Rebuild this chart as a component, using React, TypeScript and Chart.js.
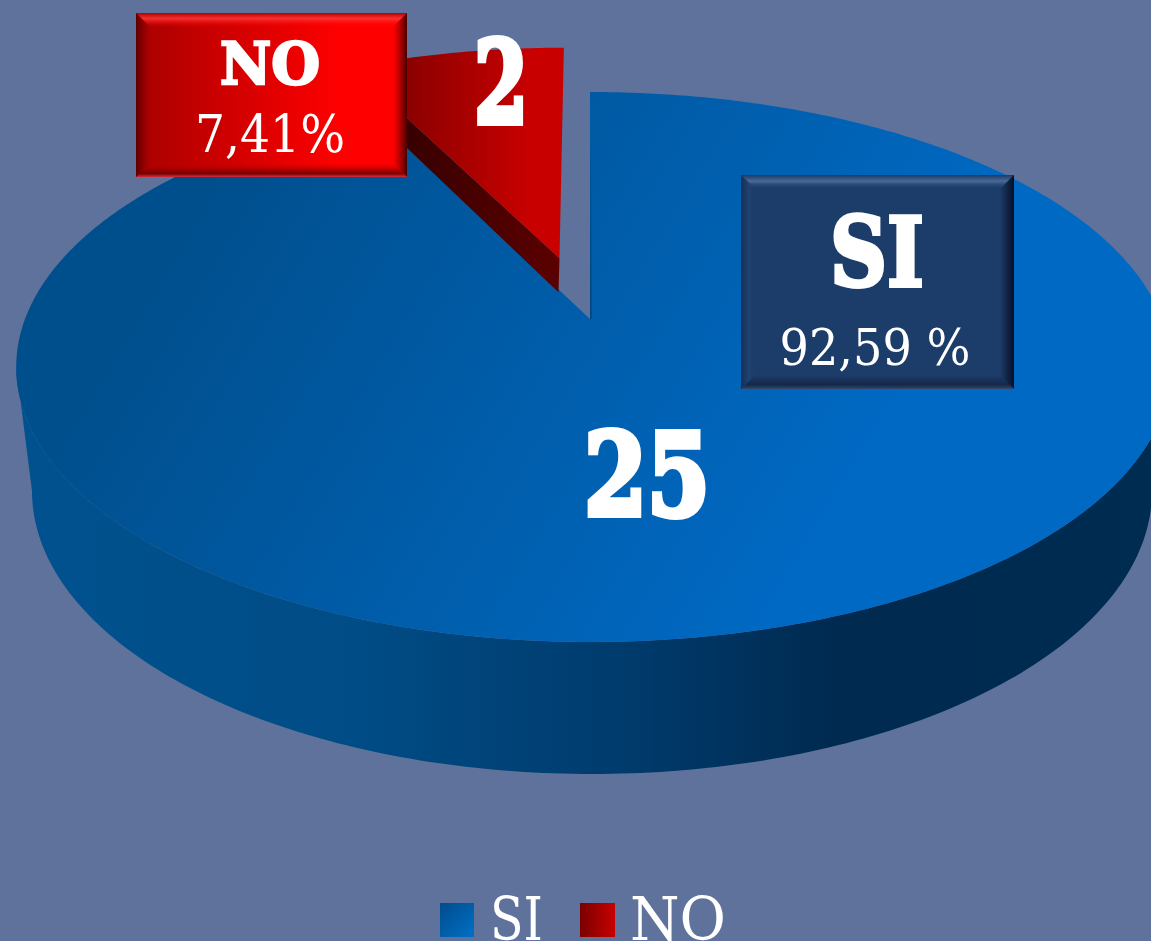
import React, { useEffect, useRef } from "react";
import { Chart, registerables } from "chart.js";

Chart.register(...registerables);

const categories = ["SI", "NO"];
const counts = [25, 2];
const percentLabels = ["92,59 %", "7,41%"];
const explode = [0, 140];

const BG = "#5f729b";
const RADIUS = 574;
const SERIF = '"DejaVu Serif", serif';

// Projection of the pie's unit disc on to the tilted plane
const APEX_X = 590;
const APEX_Y = 319;
const PERSP = -0.1745;
const STRETCH_Y = 266.6;
const STRETCH_LEFT = 565;
const STRETCH_RIGHT = 572;

function project(u: number, v: number): [number, number] {
  const d = 1 + PERSP * v;
  const s = u > 0 ? STRETCH_RIGHT : STRETCH_LEFT;
  return [APEX_X + (s * u) / d, APEX_Y + (STRETCH_Y * v) / d];
}

function slicePath(ctx: CanvasRenderingContext2D, start: number, end: number, ou: number, ov: number) {
  ctx.beginPath();
  const a = project(ou, ov);
  ctx.moveTo(a[0], a[1]);
  const n = Math.max(2, Math.ceil((end - start) / 0.01));
  for (let i = 0; i <= n; i++) {
    const t = start + ((end - start) * i) / n;
    const p = project(ou + Math.cos(t), ov + Math.sin(t));
    ctx.lineTo(p[0], p[1]);
  }
  ctx.closePath();
}

type Stops = [number, string][];

function bevelBox(
  ctx: CanvasRenderingContext2D,
  x: number, y: number, w: number, h: number, b: number,
  fill: string | CanvasGradient,
  top: Stops, right: Stops, bottom: Stops, left: Stops
) {
  ctx.fillStyle = fill;
  ctx.fillRect(x, y, w, h);
  const face = (pts: number[][], g: number[], stops: Stops) => {
    const lg = ctx.createLinearGradient(g[0], g[1], g[2], g[3]);
    stops.forEach((s) => lg.addColorStop(s[0], s[1]));
    ctx.fillStyle = lg;
    ctx.beginPath();
    pts.forEach((p, i) => (i ? ctx.lineTo(p[0], p[1]) : ctx.moveTo(p[0], p[1])));
    ctx.closePath();
    ctx.fill();
  };
  const x2 = x + w, y2 = y + h;
  face([[x, y], [x2, y], [x2 - b, y + b], [x + b, y + b]], [0, y, 0, y + b], top);
  face([[x2, y], [x2, y2], [x2 - b, y2 - b], [x2 - b, y + b]], [x2, 0, x2 - b, 0], right);
  face([[x, y2], [x2, y2], [x2 - b, y2 - b], [x + b, y2 - b]], [0, y2, 0, y2 - b], bottom);
  face([[x, y], [x, y2], [x + b, y2 - b], [x + b, y + b]], [x, 0, x + b, 0], left);
}

function label(
  ctx: CanvasRenderingContext2D, s: string, x: number, y: number, font: string, maxW: number, heavy = 0
) {
  ctx.font = font;
  ctx.textAlign = "center";
  ctx.textBaseline = "alphabetic";
  ctx.fillStyle = "#ffffff";
  if (heavy) {
    ctx.strokeStyle = "#ffffff";
    ctx.lineWidth = heavy;
    ctx.lineJoin = "miter";
    ctx.strokeText(s, x, y, maxW);
  }
  ctx.fillText(s, x, y, maxW);
}

const pie3d = {
  id: "pie3d",
  beforeDatasetDraw() {
    return false;
  },
  afterDatasetsDraw(chart: any) {
    const ctx: CanvasRenderingContext2D = chart.ctx;
    const arcs = chart.getDatasetMeta(0).data;
    const si = arcs[0];
    const no = arcs[1];
    ctx.save();

    // SI: outer wall of the near half
    const wallG = ctx.createLinearGradient(20, 0, 1150, 0);
    wallG.addColorStop(0, "#00528f");
    wallG.addColorStop(0.3, "#004c86");
    wallG.addColorStop(0.55, "#003a6b");
    wallG.addColorStop(0.72, "#002a50");
    wallG.addColorStop(1, "#002c52");
    const a0 = (10 * Math.PI) / 180;
    const a1 = (170 * Math.PI) / 180;
    ctx.beginPath();
    const w0 = project(Math.cos(a0), Math.sin(a0));
    ctx.moveTo(w0[0], w0[1]);
    for (let i = 0; i <= 180; i++) {
      const phi = (i * Math.PI) / 180;
      ctx.lineTo(592 + 560 * Math.cos(phi), 491 + 283 * Math.sin(phi));
    }
    for (let i = 0; i <= 160; i++) {
      const t = a1 + ((a0 - a1) * i) / 160;
      const p = project(Math.cos(t), Math.sin(t));
      ctx.lineTo(p[0], p[1]);
    }
    ctx.closePath();
    ctx.fillStyle = wallG;
    ctx.fill();

    // SI: top face
    const siG = ctx.createLinearGradient(200, 200, 800, 560);
    siG.addColorStop(0, "#004f8d");
    siG.addColorStop(1, "#0069c3");
    slicePath(ctx, si.startAngle, si.endAngle, 0, 0);
    ctx.fillStyle = siG;
    ctx.fill();
    const apex = project(0, 0);
    const edge = project(Math.cos(si.startAngle), Math.sin(si.startAngle));
    const edgeG = ctx.createLinearGradient(0, edge[1] + 40, 0, apex[1]);
    edgeG.addColorStop(0, "rgba(0,55,105,0)");
    edgeG.addColorStop(1, "rgba(0,55,105,0.7)");
    ctx.strokeStyle = edgeG;
    ctx.lineWidth = 1.5;
    ctx.beginPath();
    ctx.moveTo(edge[0] + 0.75, edge[1] + 40);
    ctx.lineTo(apex[0] + 0.75, apex[1]);
    ctx.stroke();

    // NO: exploded slice
    const mid = (no.startAngle + no.endAngle) / 2;
    const off = no.options.offset / no.outerRadius;
    const ou = off * Math.cos(mid);
    const ov = off * Math.sin(mid);
    const tip = project(ou, ov);
    const rim = project(ou + Math.cos(no.startAngle), ov + Math.sin(no.startAngle));
    const sideG = ctx.createLinearGradient(400, 0, 560, 0);
    sideG.addColorStop(0, "#360000");
    sideG.addColorStop(1, "#5c0000");
    ctx.fillStyle = sideG;
    ctx.beginPath();
    ctx.moveTo(tip[0], tip[1]);
    ctx.lineTo(rim[0], rim[1]);
    ctx.lineTo(rim[0], rim[1] + 28);
    ctx.lineTo(tip[0] - 1, tip[1] + 34);
    ctx.closePath();
    ctx.fill();
    const noG = ctx.createLinearGradient(400, 0, 530, 0);
    noG.addColorStop(0, "#880000");
    noG.addColorStop(1, "#c80000");
    slicePath(ctx, no.startAngle, no.endAngle, ou, ov);
    ctx.fillStyle = noG;
    ctx.fill();

    // Value labels
    label(ctx, String(counts[0]), 647, 515, `bold 114px ${SERIF}`, 126, 6);
    label(ctx, String(counts[1]), 501, 123, `bold 114px ${SERIF}`, 54, 6);

    // NO call-out
    const boxG = ctx.createLinearGradient(136, 0, 340, 0);
    boxG.addColorStop(0, "#a80000");
    boxG.addColorStop(1, "#ff0000");
    bevelBox(ctx, 136, 13, 271, 164, 14, boxG,
      [[0, "rgba(175,0,0,1)"], [0.4, "rgba(255,55,55,0.85)"], [1, "rgba(255,0,0,0)"]],
      [[0, "rgba(60,0,0,0.95)"], [1, "rgba(120,0,0,0)"]],
      [[0, "rgba(215,45,65,0.95)"], [0.25, "rgba(110,0,0,0.95)"], [1, "rgba(200,0,0,0)"]],
      [[0, "rgba(90,0,0,0.95)"], [1, "rgba(120,0,0,0)"]]);
    label(ctx, categories[1], 270, 84, `bold 58px ${SERIF}`, 100, 2.5);
    label(ctx, percentLabels[1], 270, 152, `52px ${SERIF}`, 150);

    // SI call-out
    bevelBox(ctx, 741, 175, 273, 214, 14, "#1c3c69",
      [[0, "#1b3a66"], [0.45, "#4a6a98"], [1, "rgba(28,60,105,0)"]],
      [[0, "#050f25"], [1, "rgba(5,15,37,0)"]],
      [[0, "#33486c"], [0.3, "#14284a"], [1, "rgba(20,40,74,0)"]],
      [[0, "#14305a"], [0.6, "#21436f"], [1, "rgba(28,60,105,0)"]]);
    label(ctx, categories[0], 877, 286, `bold 96px ${SERIF}`, 94, 4);
    label(ctx, percentLabels[0], 875, 365, `51px ${SERIF}`, 191);

    // Legend
    const lg0 = ctx.createLinearGradient(440, 903, 474, 937);
    lg0.addColorStop(0, "#004c8a");
    lg0.addColorStop(1, "#0070c8");
    ctx.fillStyle = lg0;
    ctx.fillRect(440, 903, 34, 34);
    const lg1 = ctx.createLinearGradient(580, 0, 615, 0);
    lg1.addColorStop(0, "#7a0000");
    lg1.addColorStop(1, "#c80000");
    ctx.fillStyle = lg1;
    ctx.fillRect(580, 903, 35, 34);
    ctx.fillStyle = "#ffffff";
    ctx.font = `59px ${SERIF}`;
    ctx.textAlign = "left";
    ctx.textBaseline = "alphabetic";
    ctx.fillText(categories[0], 490, 940, 53);
    ctx.fillText(categories[1], 630, 940, 96);

    ctx.restore();
  },
};

export default function App() {
  const ref = useRef<HTMLCanvasElement>(null);
  useEffect(() => {
    const chart = new Chart(ref.current as HTMLCanvasElement, {
      type: "pie",
      data: {
        labels: categories,
        datasets: [{ data: counts, offset: explode, borderWidth: 0, backgroundColor: ["#0060ab", "#c00000"] }],
      },
      options: {
        animation: false,
        responsive: false,
        radius: RADIUS,
        plugins: { legend: { display: false }, tooltip: { enabled: false } },
      } as any,
      plugins: [pie3d],
    });
    return () => chart.destroy();
  }, []);
  return (
    <div style={{ position: "fixed", left: 0, top: 0, width: 1151, height: 941, background: BG, overflow: "hidden" }}>
      <canvas ref={ref} width={1151} height={941} style={{ display: "block" }} />
    </div>
  );
}
